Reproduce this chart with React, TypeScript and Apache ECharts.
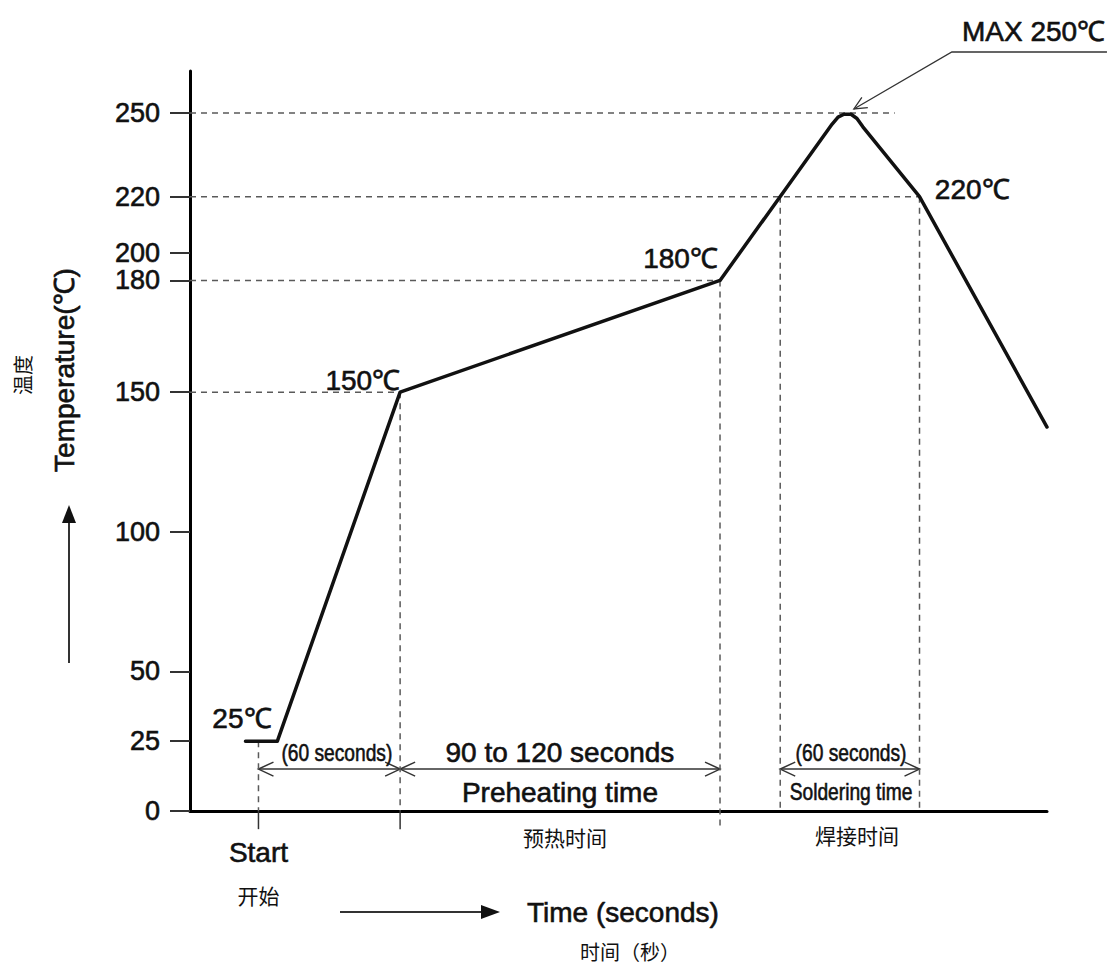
import React, { useEffect, useRef } from "react";
import * as echarts from "echarts";

// ---- axis ranges (time in seconds from "Start", temperature axis units) ----
const X_MIN = -29;
const X_MAX = 334;
const Y_MIN = 0;
const Y_MAX = 265;

// tick positions on the temperature axis and the labels printed there
const TEMP_TICK_POS = [0, 25, 50, 100, 150, 190, 200, 220, 250];
const TEMP_TICK_LABELS = ["0", "25", "50", "100", "150", "180", "200", "220", "250"];

// reflow profile
const PROFILE_TIME = [-5.5, 8, 60, 195.5, 243, 245.5, 248, 251, 253.5, 256, 280, 334];
const PROFILE_TEMP = [25, 25, 150, 190, 246, 248.5, 249.5, 249.5, 248, 245, 220, 137.5];

// dashed reference lines
const H_GUIDE_TEMP = [250, 220, 190, 150];
const H_GUIDE_END = [269.5, 280, 195.5, 60];
const V_GUIDE_TIME = [0, 60, 195.5, 221, 280];
const V_GUIDE_TOP = [25, 150, 190, 220, 220];
const V_GUIDE_BOTTOM = [0, 0, -6.5, 0, 0];
// short solid ticks below the time axis
const X_TICK_TIME = [0, 60];
const X_TICK_DEPTH = -6.5;

// dimension arrows
const DIM_LEVEL = 15;
const DIM_START = [0, 60, 221];
const DIM_END = [60, 195.5, 280];

// annotation texts
const ANN_TEXT = [
  "MAX 250℃", "220℃", "180℃", "150℃", "25℃",
  "(60 seconds)", "90 to 120 seconds", "Preheating time",
  "(60 seconds)", "Soldering time",
  "Start", "开始", "预热时间", "焊接时间",
];
const ANN_TIME = [298, 286.5, 194.6, 60, -7, 33.2, 127.7, 127.7, 251, 251, 0, 0, 129.8, 253.5];
const ANN_TEMP = [279, 222.4, 198, 154, 33.3, 20.8, 21.1, 6.8, 20.8, 6.8, -15, -30, -9.3, -8.6];

// MAX leader: tail end, elbow, tip
const LEADER_TIME = [359.4, 293.7, 252.2];
const LEADER_TEMP = [271.8, 271.8, 251.4];

const FONT_EN = "'Liberation Sans', Arial, Helvetica, sans-serif";
const FONT_CN = "'Noto Sans CJK SC', sans-serif";

const INK = "#111111";
const GUIDE = "#5a5a5a";

export default function App() {
  const ref = useRef<HTMLDivElement>(null);

  useEffect(() => {
    const el = ref.current;
    if (!el) return;
    const chart = echarts.init(el, null, { renderer: "svg" });

    const series: any[] = [];
    series.push({
      type: "line",
      data: PROFILE_TIME.map((t, i) => [t, PROFILE_TEMP[i]]),
      symbol: "none",
      lineStyle: { color: "#111", width: 3.5, join: "round", cap: "round" },
      z: 5,
      clip: false,
      silent: true,
    });
    H_GUIDE_TEMP.forEach((v, i) => {
      series.push({
        type: "line",
        data: [[X_MIN, v], [H_GUIDE_END[i], v]],
        symbol: "none",
        lineStyle: { color: GUIDE, width: 1.5, type: [6, 5] },
        z: 2,
        clip: false,
        silent: true,
      });
    });
    V_GUIDE_TIME.forEach((t, i) => {
      series.push({
        type: "line",
        data: [[t, V_GUIDE_TOP[i]], [t, V_GUIDE_BOTTOM[i]]],
        symbol: "none",
        lineStyle: { color: GUIDE, width: 1.5, type: [6, 5] },
        z: 2,
        clip: false,
        silent: true,
      });
    });
    X_TICK_TIME.forEach((t) => {
      series.push({
        type: "line",
        data: [[t, 0], [t, X_TICK_DEPTH]],
        symbol: "none",
        lineStyle: { color: "#333", width: 1.5 },
        z: 2,
        clip: false,
        silent: true,
      });
    });

    chart.setOption({
      animation: false,
      backgroundColor: "#ffffff",
      grid: {
        left: 190,
        right: 65,
        top: 71,
        bottom: 156,
        containLabel: false,
        outerBoundsMode: "none",
      },
      xAxis: {
        type: "value",
        min: X_MIN,
        max: X_MAX,
        axisLine: { show: true, lineStyle: { color: "#000", width: 3 } },
        axisTick: { show: false },
        axisLabel: { show: false },
        splitLine: { show: false },
      },
      yAxis: {
        type: "value",
        min: Y_MIN,
        max: Y_MAX,
        axisLine: { show: true, onZero: false, lineStyle: { color: "#000", width: 3 } },
        axisTick: {
          show: true,
          customValues: TEMP_TICK_POS,
          length: 20,
          lineStyle: { color: "#333", width: 2 },
        },
        axisLabel: {
          show: true,
          customValues: TEMP_TICK_POS,
          hideOverlap: false,
          margin: 30,
          fontSize: 27,
          fontFamily: FONT_EN,
          color: INK,
          textBorderColor: INK,
          textBorderWidth: 0.6,
          formatter: (v: number) => {
            const i = TEMP_TICK_POS.indexOf(v);
            return i >= 0 ? TEMP_TICK_LABELS[i] : "";
          },
        },
        splitLine: { show: false },
      },
      series,
    });

    const px = (x: number, y: number) =>
      chart.convertToPixel({ gridIndex: 0 }, [x, y]) as number[];

    const g: any[] = [];
    const stroke = { stroke: "#333", lineWidth: 1.5, fill: null };

    // dimension arrows
    DIM_START.forEach((a, i) => {
      const A = px(a, DIM_LEVEL);
      const B = px(DIM_END[i], DIM_LEVEL);
      g.push({ type: "line", shape: { x1: A[0], y1: A[1], x2: B[0], y2: B[1] }, style: stroke, silent: true });
      g.push({
        type: "polyline",
        shape: { points: [[A[0] + 15, A[1] - 7], [A[0], A[1]], [A[0] + 15, A[1] + 7]] },
        style: stroke,
        silent: true,
      });
      g.push({
        type: "polyline",
        shape: { points: [[B[0] - 15, B[1] - 7], [B[0], B[1]], [B[0] - 15, B[1] + 7]] },
        style: stroke,
        silent: true,
      });
    });

    // MAX leader
    const L = LEADER_TIME.map((t, i) => px(t, LEADER_TEMP[i]));
    g.push({ type: "polyline", shape: { points: L }, style: { stroke: "#333", lineWidth: 1.3, fill: null }, silent: true });
    {
      const tip = L[2];
      const from = L[1];
      const dx = from[0] - tip[0];
      const dy = from[1] - tip[1];
      const len = Math.hypot(dx, dy);
      const ux = dx / len;
      const uy = dy / len;
      const a = (25 * Math.PI) / 180;
      const arm = 14;
      const r1 = [tip[0] + arm * (ux * Math.cos(a) - uy * Math.sin(a)), tip[1] + arm * (ux * Math.sin(a) + uy * Math.cos(a))];
      const r2 = [tip[0] + arm * (ux * Math.cos(a) + uy * Math.sin(a)), tip[1] + arm * (-ux * Math.sin(a) + uy * Math.cos(a))];
      g.push({ type: "polyline", shape: { points: [r1, tip, r2] }, style: { stroke: "#333", lineWidth: 1.3, fill: null }, silent: true });
    }

    // annotation texts
    ANN_TEXT.forEach((t, i) => {
      const P = px(ANN_TIME[i], ANN_TEMP[i]);
      const isCN = /[\u4e00-\u9fff]/.test(t);
      const narrow = t === "(60 seconds)" || t === "Soldering time";
      const left = i === 0 || i === 1;
      const right = i === 2 || i === 3;
      g.push({
        type: "text",
        x: P[0],
        y: P[1],
        scaleX: narrow ? 0.8 : 1,
        style: {
          text: t,
          fontSize: isCN ? 21 : narrow ? 24 : 28,
          fontFamily: isCN ? FONT_CN : FONT_EN,
          fill: INK,
          stroke: isCN ? null : INK,
          lineWidth: isCN ? 0 : 0.6,
          align: left ? "left" : right ? "right" : "center",
          verticalAlign: "middle",
        },
        silent: true,
        z: 10,
      });
    });

    // axis titles & arrows (outside the plot)
    g.push({
      type: "text",
      x: 64,
      y: 370,
      rotation: Math.PI / 2,
      style: {
        text: "Temperature(℃)", fontSize: 28, fontFamily: FONT_EN, fill: INK,
        stroke: INK, lineWidth: 0.6, align: "center", verticalAlign: "middle",
      },
      silent: true,
    });
    g.push({
      type: "text",
      x: 22,
      y: 375,
      rotation: Math.PI / 2,
      style: { text: "温度", fontSize: 20, fontFamily: FONT_CN, fill: INK, align: "center", verticalAlign: "middle" },
      silent: true,
    });
    g.push({ type: "line", shape: { x1: 69, y1: 663, x2: 69, y2: 520 }, style: { stroke: "#333", lineWidth: 2 }, silent: true });
    g.push({ type: "polygon", shape: { points: [[62, 523], [69, 505], [76, 523]] }, style: { fill: "#111" }, silent: true });

    g.push({ type: "line", shape: { x1: 340, y1: 912, x2: 484, y2: 912 }, style: { stroke: "#333", lineWidth: 2 }, silent: true });
    g.push({ type: "polygon", shape: { points: [[481, 905], [500, 912], [481, 919]] }, style: { fill: "#111" }, silent: true });
    g.push({
      type: "text",
      x: 527,
      y: 912,
      style: {
        text: "Time (seconds)", fontSize: 28, fontFamily: FONT_EN, fill: INK,
        stroke: INK, lineWidth: 0.6, align: "left", verticalAlign: "middle",
      },
      silent: true,
    });
    g.push({
      type: "text",
      x: 630,
      y: 951,
      style: { text: "时间（秒）", fontSize: 20, fontFamily: FONT_CN, fill: INK, align: "center", verticalAlign: "middle" },
      silent: true,
    });

    chart.setOption({ graphic: g });

    return () => chart.dispose();
  }, []);

  return (
    <div
      ref={ref}
      style={{ position: "fixed", left: 0, top: 0, width: 1112, height: 967, background: "#fff" }}
    />
  );
}
